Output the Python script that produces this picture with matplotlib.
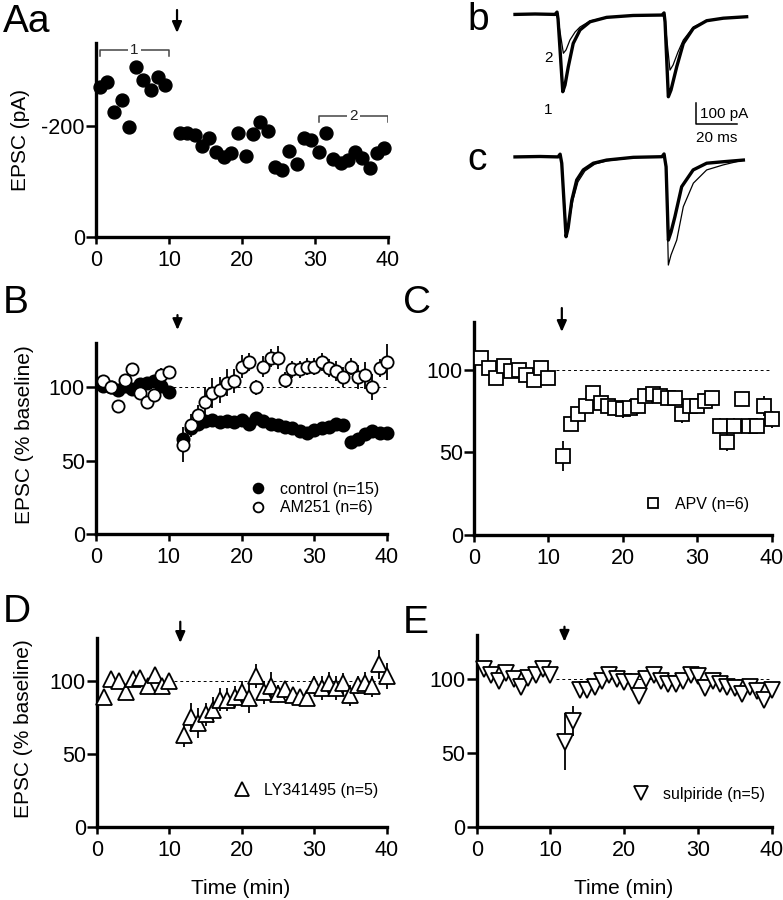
import matplotlib
matplotlib.use("Agg")
import matplotlib.pyplot as plt

plt.rcParams["font.family"] = ["Liberation Sans", "DejaVu Sans"]
plt.rcParams["axes.unicode_minus"] = False

W, H = 783, 900

# ---- panel Aa: single cell, EPSC amplitude (pA) ----
aa_time_pre = [0.5, 1.5, 2.5, 3.5, 4.5, 5.5, 6.5, 7.5, 8.5, 9.5]
aa_epsc_pre = [-270, -280, -225, -247, -198, -307, -283, -265, -288, -274]
aa_time_post = [11.5, 12.5, 13.5, 14.5, 15.5, 16.5, 17.5, 18.5, 19.5, 20.5,
                21.5, 22.5, 23.5, 24.5, 25.5, 26.5, 27.5, 28.5, 29.5, 30.5,
                31.5, 32.5, 33.5, 34.5, 35.5, 36.5, 37.5, 38.5, 39.5]
aa_epsc_post = [-187, -188, -184, -164, -178, -154, -145, -152, -188, -146,
                -186, -208, -191, -127, -121, -156, -132, -178, -175, -154,
                -187, -140, -133, -139, -154, -142, -124, -151, -160]
aa_bracket1 = (0.5, 10.0, -338)
aa_bracket2 = (30.5, 40.0, -218)

# ---- sample traces b / c (ms, pA) ----
b1_t = [0, 9.8, 19.5, 20.5, 21.0, 23.3, 24.4, 26.0, 28.4, 31.7, 36.6, 44.7, 57.6, 71.7,
        72.7, 73.2, 74.8, 76.1, 78.9, 82.1, 87.0, 93.5, 101.6, 113.0]
b1_i = [-2, 0, -2, 9, -24, -370, -338, -251, -140, -76, -37, -16, -7, -5,
        5, -38, -394, -362, -251, -140, -68, -32, -20, -13]
b2_t = [0, 9.8, 19.5, 20.5, 21.0, 23.6, 24.9, 26.8, 29.3, 31.7, 36.6, 44.7, 57.6, 71.7,
        72.7, 73.2, 75.6, 77.1, 79.5, 82.1, 87.0, 93.5, 101.6, 113.0]
b2_i = [-2, 0, -2, 9, -24, -187, -171, -124, -86, -62, -33, -16, -7, -5,
        5, -38, -267, -243, -181, -124, -62, -32, -20, -13]
c1_t = [0, 12.2, 21.0, 22.0, 22.8, 24.9, 25.9, 27.7, 30.1, 33.3, 38.2, 44.7, 57.7, 71.7,
        72.7, 73.7, 74.8, 76.1, 78.0, 81.3, 86.9, 93.5, 101.6, 111.4]
c1_i = [-1, 1, -1, 12, -31, -381, -340, -208, -111, -63, -31, -16, -3, 0,
        13, -48, -397, -359, -286, -143, -63, -31, -24, -16]
c2_t = [0, 12.2, 21.0, 22.0, 22.8, 25.1, 26.3, 28.3, 30.7, 34.1, 39.0, 44.7, 57.7, 71.7,
        72.7, 73.7, 74.8, 76.1, 78.9, 82.1, 87.0, 93.5, 101.6, 111.4]
c2_i = [-1, 1, -1, 12, -31, -367, -311, -206, -120, -68, -35, -20, -4, 0,
        13, -48, -516, -468, -397, -238, -126, -63, -39, -16]

# ---- normalised panels (% baseline) ----
pre_t = [1, 2, 3, 4, 5, 6, 7, 8, 9, 10]
post_t = list(range(12, 41))

ctrl_pre = [101, 100, 98, 101, 99, 102, 103, 104, 101, 97]
ctrl_pre_err = [2, 2, 2, 2, 2, 2, 2, 2, 2, 2]
ctrl_post = [65, 72, 75, 77, 78, 76, 77, 76, 78, 75, 79, 77, 75, 74, 73,
             72, 70, 69, 71, 72, 73, 75, 74, 63, 65, 68, 70, 69, 69]
ctrl_post_err = [4, 4, 4, 4, 3, 4, 3, 3, 3, 3, 3, 3, 3, 3, 3,
                 3, 3, 3, 3, 3, 3, 3, 3, 3, 3, 3, 3, 3, 3]

am_pre = [104, 100, 87, 105, 112, 96, 90, 95, 108, 110]
am_pre_err = [3, 3, 3, 3, 3, 3, 3, 3, 5, 3]
am_post = [61, 74, 81, 90, 96, 98, 103, 104, 114, 117, 100, 114, 120, 120, 105,
           112, 112, 114, 114, 117, 113, 111, 107, 114, 107, 108, 100, 113, 117]
am_post_err = [12, 8, 7, 10, 10, 9, 9, 8, 8, 6, 5, 7, 6, 8, 5,
               6, 6, 6, 6, 6, 6, 7, 7, 6, 8, 9, 9, 6, 12]

apv_pre = [107, 101, 95, 102, 99, 100, 97, 94, 101, 95]
apv_pre_err = [3, 3, 3, 3, 3, 3, 3, 3, 3, 3]
apv_post = [48, 67, 73, 78, 86, 80, 78, 77, 76, 77, 78, 84, 85, 84, 83,
            83, 73, 78, 78, 81, 83, 66, 56, 66, 82, 66, 66, 78, 70]
apv_post_err = [9, 4, 4, 4, 4, 4, 4, 5, 5, 5, 5, 4, 4, 4, 4,
                4, 5, 4, 4, 4, 4, 5, 5, 5, 3, 5, 5, 6, 5]

ly_pre = [89, 101, 100, 92, 101, 102, 96, 104, 96, 100]
ly_pre_err = [3, 3, 3, 3, 3, 3, 3, 3, 4, 3]
ly_post = [63, 75, 71, 77, 80, 87, 87, 89, 92, 88, 103, 92, 96, 91, 94,
           90, 89, 88, 97, 95, 98, 95, 98, 90, 97, 98, 96, 111, 103]
ly_post_err = [8, 10, 10, 8, 9, 8, 8, 7, 8, 10, 8, 8, 10, 6, 6,
               5, 5, 4, 6, 8, 8, 8, 7, 7, 6, 8, 7, 10, 9]

sul_pre = [107, 103, 99, 104, 100, 95, 101, 103, 107, 103]
sul_pre_err = [2, 2, 2, 2, 2, 2, 2, 2, 2, 2]
sul_post = [58, 72, 93, 93, 95, 99, 103, 100, 98, 98, 89, 100, 103, 99, 97,
            97, 99, 103, 102, 94, 99, 97, 95, 94, 90, 95, 92, 86, 93]
sul_post_err = [19, 10, 4, 4, 4, 4, 3, 3, 3, 3, 4, 3, 3, 3, 3,
                3, 3, 3, 3, 3, 3, 3, 3, 3, 3, 3, 3, 3, 3]

BASELINE = 100
drug_arrow_t = {"Aa": 11.1, "B": 11.2, "C": 11.8, "D": 11.5, "E": 11.9}


def px_axes(fig, l, t, r, b):
    return fig.add_axes([l / W, 1 - b / H, (r - l) / W, (b - t) / H])


def style_axes(ax):
    for s in ("top", "right"):
        ax.spines[s].set_visible(False)
    for s in ("left", "bottom"):
        ax.spines[s].set_linewidth(2.4)
    ax.tick_params(direction="out", width=1.8, labelsize=15.5)
    ax.tick_params(axis="y", pad=1, length=7)
    ax.tick_params(axis="x", pad=4, length=5)
    ax.set_xlim(0, 40)
    ax.set_xticks([0, 10, 20, 30, 40])
    ax.patch.set_visible(False)


def add_arrow(ax, t, tip, tail):
    ax.annotate("", xy=(t, tip), xytext=(t, tail),
                xycoords=("data", "axes fraction"),
                textcoords=("data", "axes fraction"),
                arrowprops=dict(arrowstyle="-|>,head_width=0.22,head_length=0.5",
                                color="k", lw=1.6, mutation_scale=13,
                                shrinkA=0, shrinkB=0),
                annotation_clip=False)


def series(ax, t, v, e, marker, filled, ms, label=None, z=3):
    ax.errorbar(t, v, yerr=e, fmt="none", ecolor="k", elinewidth=1.3,
                capsize=0, zorder=z - 1, clip_on=False)
    return ax.plot(t, v, linestyle="none", marker=marker, ms=ms,
                   mfc="k" if filled else "white", mec="k", mew=1.3,
                   zorder=z, clip_on=False, label=label)[0]


def norm_panel(ax, ylim):
    style_axes(ax)
    ax.set_ylim(0, ylim)
    ax.set_yticks([0, 50, 100])


def legend_at(ax, handles, x_px, y_px, spacing=0.15):
    fs_px = 11.5 * 100 / 72
    left = x_px - 0.5 * fs_px
    ax.legend(handles=handles, loc="upper left",
              bbox_to_anchor=(left / W, 1 - y_px / H),
              bbox_transform=ax.figure.transFigure, frameon=False,
              fontsize=11.5, handlelength=1.0, handletextpad=0.85,
              borderpad=0, borderaxespad=0, labelspacing=spacing,
              markerscale=0.8)


fig = plt.figure(figsize=(W / 100, H / 100), dpi=100)

# ---------------- Aa ----------------
ax = px_axes(fig, 96, 43, 388, 237)
style_axes(ax)
ax.set_ylim(0, -350)
ax.set_yticks([0, -200])
ax.plot(aa_time_pre, aa_epsc_pre, "o", color="k", ms=9.3, clip_on=False)
ax.plot(aa_time_post, aa_epsc_post, "o", color="k", ms=9.3, clip_on=False)
for (x0, x1, yb), lab in ((aa_bracket1, "1"), (aa_bracket2, "2")):
    ax.plot([x0, x0, x1, x1], [yb + 11, yb, yb, yb + 11], color="#444444", lw=1.1)
    ax.text((x0 + x1) / 2, yb, lab, ha="center", va="center", fontsize=11,
            color="#222222", bbox=dict(fc="white", ec="none", pad=1.5))
add_arrow(ax, drug_arrow_t["Aa"], 1.052, 1.170)
fig.text(21 / W, 1 - 140 / H, "EPSC (pA)", rotation=90, ha="center", va="center",
         fontsize=15)

# ---------------- b / c traces ----------------
def trace_axes(t, b, base_y):
    a = px_axes(fig, 490, t, 783, b)
    a.set_xlim((490 - 515) / 2.05, (783 - 515) / 2.05)
    a.set_ylim(-(b - base_y) / 0.21, -(t - base_y) / 0.21)
    a.axis("off")
    return a

axb = trace_axes(0, 140, 14)
axb.plot(b1_t, b1_i, color="k", lw=2.4, solid_joinstyle="round")
axb.plot(b2_t, b2_i, color="k", lw=0.9)
axb.text(16.1, -210, "2", ha="center", va="center", fontsize=11)
axb.text(16.1, -457, "1", ha="center", va="center", fontsize=11)
# scale bar: 100 pA, 20 ms
sb_x, sb_y = 88.3, -524
axb.plot([sb_x, sb_x, sb_x + 20], [sb_y + 100, sb_y, sb_y], color="k", lw=1.1)
axb.text(sb_x + 2, sb_y + 50, "100 pA", ha="left", va="center", fontsize=11)
axb.text(sb_x + 10, sb_y - 66, "20 ms", ha="center", va="center", fontsize=11)

axc = trace_axes(140, 270, 156.7)
axc.plot(c1_t, c1_i, color="k", lw=2.4, solid_joinstyle="round")
axc.plot(c2_t, c2_i, color="k", lw=0.9)

# ---------------- B ----------------
ax = px_axes(fig, 96, 343, 387, 534.3)
norm_panel(ax, 130)
ax.hlines(BASELINE, 10.6, 40, colors="k", linestyles=(0, (3, 3)), lw=0.7)
h1 = series(ax, pre_t, ctrl_pre, ctrl_pre_err, "o", True, 8.8, "control (n=15)")
series(ax, post_t, ctrl_post, ctrl_post_err, "o", True, 8.8)
h2 = series(ax, pre_t, am_pre, am_pre_err, "o", False, 8.8, "AM251 (n=6)", z=5)
series(ax, post_t, am_post, am_post_err, "o", False, 8.8, z=5)
legend_at(ax, [h1, h2], 258, 482, spacing=0.2)
add_arrow(ax, drug_arrow_t["B"], 1.068, 1.146)
fig.text(24.5 / W, 1 - 435 / H, "EPSC (% baseline)", rotation=90, ha="center",
         va="center", fontsize=15)

# ---------------- C ----------------
ax = px_axes(fig, 474, 321.7, 771.7, 535)
norm_panel(ax, 129)
ax.hlines(BASELINE, 11.0, 39.8, colors="k", linestyles=(0, (3, 3)), lw=0.7)
h = series(ax, pre_t, apv_pre, apv_pre_err, "s", False, 9.5, "APV (n=6)")
series(ax, post_t, apv_post, apv_post_err, "s", False, 9.5)
legend_at(ax, [h], 653, 497)
add_arrow(ax, drug_arrow_t["C"], 0.952, 1.064)

# ---------------- D ----------------
ax = px_axes(fig, 97, 638, 386.7, 827.3)
norm_panel(ax, 129)
ax.hlines(BASELINE, 10.7, 40, colors="k", linestyles=(0, (3, 3)), lw=0.7)
h = series(ax, pre_t, ly_pre, ly_pre_err, "^", False, 12, "LY341495 (n=5)")
series(ax, post_t, ly_post, ly_post_err, "^", False, 12)
legend_at(ax, [h], 242, 783)
add_arrow(ax, drug_arrow_t["D"], 0.974, 1.086)
fig.text(24 / W, 1 - 729 / H, "EPSC (% baseline)", rotation=90, ha="center",
         va="center", fontsize=15)
fig.text(241 / W, 1 - 888 / H, "Time (min)", ha="center", va="center", fontsize=15)

# ---------------- E ----------------
ax = px_axes(fig, 476.7, 635, 771.7, 827.3)
norm_panel(ax, 130)
ax.hlines(BASELINE, 10.7, 40, colors="k", linestyles=(0, (3, 3)), lw=0.7)
h = series(ax, pre_t, sul_pre, sul_pre_err, "v", False, 12, "sulpiride (n=5)")
series(ax, post_t, sul_post, sul_post_err, "v", False, 12)
legend_at(ax, [h], 641, 787)
add_arrow(ax, drug_arrow_t["E"], 0.965, 1.043)
fig.text(624 / W, 1 - 888 / H, "Time (min)", ha="center", va="center", fontsize=15)

# ---------------- panel letters ----------------
for lab, x, y in (("Aa", 3, 32), ("b", 467, 30), ("c", 467, 170),
                  ("B", 3, 313), ("C", 403, 313), ("D", 3, 622), ("E", 403, 633)):
    fig.text(x / W, 1 - y / H, lab, ha="left", va="baseline", fontsize=28)

fig.savefig("out.png", dpi=100)
